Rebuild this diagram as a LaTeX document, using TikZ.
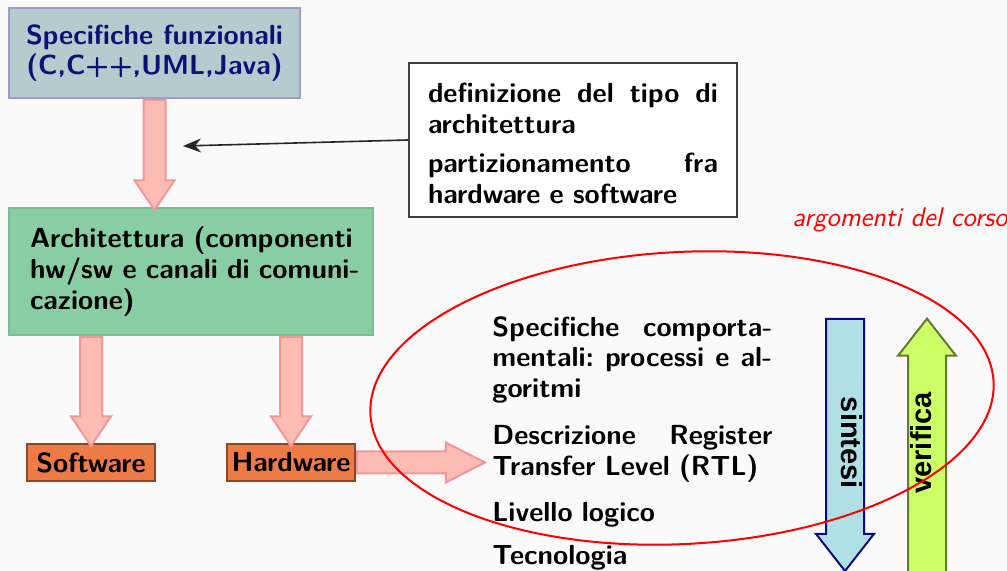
\documentclass[tikz,border=0pt]{standalone}
\usepackage{fontspec}
\usepackage{tikz}
\usetikzlibrary{arrows.meta,positioning,shapes.arrows}
\newfontfamily\arialfont{Liberation Sans}
\definecolor{bgcol}{RGB}{250,250,250}
\definecolor{specfill}{RGB}{181,204,206}
\definecolor{specline}{RGB}{158,155,205}
\definecolor{specfont}{RGB}{15,15,120}
\definecolor{archfill}{RGB}{137,205,164}
\definecolor{archline}{RGB}{118,190,148}
\definecolor{swfill}{RGB}{238,123,69}
\definecolor{swline}{RGB}{140,70,40}
\definecolor{pinkfill}{RGB}{251,188,180}
\definecolor{pinkline}{RGB}{244,150,150}
\definecolor{sintfill}{RGB}{176,224,230}
\definecolor{sintline}{RGB}{10,10,130}
\definecolor{verfill}{RGB}{204,255,102}
\definecolor{verline}{RGB}{102,120,50}

\begin{document}
\begin{tikzpicture}[x=0.5pt,y=-0.5pt,
    font=\fontsize{13.8}{15.4}\selectfont\sffamily\bfseries,
    block/.style={rectangle, line width=1pt, inner sep=0pt},
    unitbox/.style={block, draw=swline, fill=swfill, minimum width=64pt, minimum height=18.5pt},
    fatarrow/.style={single arrow, draw=pinkline, fill=pinkfill, line width=1pt,
        inner xsep=0pt, inner ysep=5pt, minimum width=0pt,
        single arrow head extend=4.5pt, single arrow tip angle=68, anchor=tail},
    flowarrow/.style={single arrow, line width=1pt, inner xsep=0pt, inner ysep=4.5pt,
        text height=6.5pt, text depth=2.5pt, minimum width=0pt,
        font=\fontsize{14.5}{16}\selectfont\arialfont\bfseries,
        single arrow head extend=5pt, single arrow tip angle=76},
  ]
  \useasboundingbox[fill=bgcol] (0,0) rectangle (1007,571);

  \node[block, draw=specline, fill=specfill, text=specfont, align=center,
    minimum width=145.5pt, minimum height=45pt] (spec) at (154.5,53)
    {Specifiche funzionali\\(C,C++,UML,Java)};
  \node[block, draw=archline, fill=archfill, align=left, text width=161pt,
    inner xsep=10.5pt, minimum height=63.5pt] (arch) at (191,271.5)
    {\mbox{Architettura (componenti}\\\mbox{hw/sw e canali di comuni-}\\cazione)};
  \node[block, draw=black!75, fill=white, align=left, text width=145pt,
    inner xsep=9.5pt, minimum height=77pt] (note) at (573,140)
    {\rule{0pt}{13pt}definizione\hfill del\hfill tipo\hfill di\\architettura\\[4pt]partizionamento\hfill fra\\hardware e software};
  \node[unitbox] (sw) at (91,462.5) {Software};
  \node[unitbox] (hw) at (291,462.5) {Hardware};
  \node[anchor=north west, inner sep=0pt, text width=140pt, align=left] (levels) at (492,316)
    {Specifiche\hfill comporta-\\mentali:\hfill processi\hfill e\hfill al-\\goritmi\\[8pt]%
     Descrizione\hfill Register\\Transfer Level (RTL)\\[7.5pt]Livello logico\\[6.5pt]Tecnologia};
  \node[anchor=base west, inner sep=0pt, text=red, font=\fontsize{13.5}{15}\selectfont\sffamily\itshape]
    (topics) at (792,227) {argomenti del corso};

  \node[fatarrow, rotate=-90, minimum height=55pt] (a1) at (spec.south) {};
  \node[fatarrow, rotate=-90, minimum height=54.5pt] (a2) at (arch.south -| sw) {};
  \node[fatarrow, rotate=-90, minimum height=54.5pt] (a3) at (arch.south -| hw) {};
  \node[fatarrow, minimum height=64pt, single arrow tip angle=54] (a4) at (hw.east) {};

  \coordinate (tipc) at (183,146);
  \draw[-{Stealth[length=9pt,width=7pt]}, line width=0.8pt, black!85] (note.west) -- (tipc);

  \node[flowarrow, draw=sintline, fill=sintfill, rotate=-90, minimum height=126pt,
    anchor=tail] (synth) at (845,318) {\hspace*{10pt}sintesi};
  \node[flowarrow, draw=verline, fill=verfill, rotate=90, minimum height=128pt,
    anchor=tip] (verif) at (927,317) {\hspace*{16pt}verifica};

  \draw[red, line width=1pt, rotate around={3:(682,398)}] (682,398) ellipse [x radius=156pt, y radius=73pt];
\end{tikzpicture}
\end{document}
